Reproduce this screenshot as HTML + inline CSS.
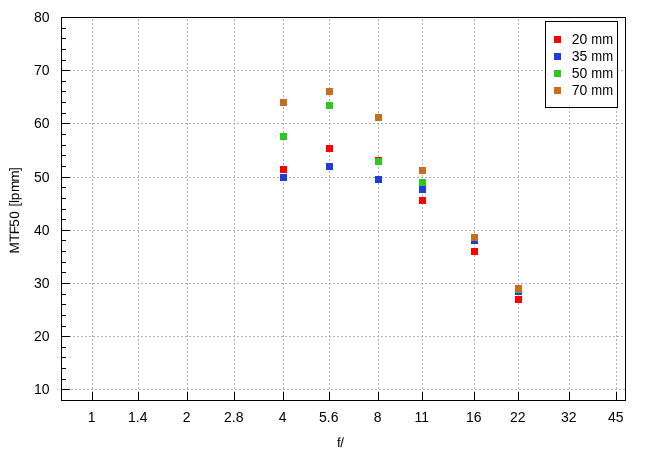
<!DOCTYPE html>
<html lang="en"><head><meta charset="utf-8"><title>MTF50 chart</title>
<style>
html,body{margin:0;padding:0;background:#fff;}
body{width:650px;height:455px;overflow:hidden;}
svg{display:block;}
text{font-family:"Liberation Sans",Arial,sans-serif;font-size:14px;fill:#000;}
.g{fill:#b2b2b2;}
</style></head><body>
<svg width="650" height="455" viewBox="0 0 650 455" shape-rendering="crispEdges">
<rect x="0" y="0" width="650" height="455" fill="#fff"/>
<g stroke="#b2b2b2" stroke-width="1" stroke-dasharray="2 2" fill="none">
<line x1="71" y1="389.5" x2="625" y2="389.5"/>
<line x1="69" y1="336.5" x2="625" y2="336.5"/>
<line x1="69" y1="283.5" x2="625" y2="283.5"/>
<line x1="69" y1="230.5" x2="625" y2="230.5"/>
<line x1="69" y1="177.5" x2="625" y2="177.5"/>
<line x1="69" y1="123.5" x2="625" y2="123.5"/>
<line x1="69" y1="70.5" x2="625" y2="70.5"/>
<line x1="92.5" y1="19" x2="92.5" y2="400"/>
<line x1="138.5" y1="19" x2="138.5" y2="400"/>
<line x1="187.5" y1="19" x2="187.5" y2="400"/>
<line x1="234.5" y1="19" x2="234.5" y2="400"/>
<line x1="283.5" y1="19" x2="283.5" y2="400"/>
<line x1="329.5" y1="19" x2="329.5" y2="400"/>
<line x1="378.5" y1="19" x2="378.5" y2="400"/>
<line x1="422.5" y1="19" x2="422.5" y2="400"/>
<line x1="474.5" y1="19" x2="474.5" y2="400"/>
<line x1="518.5" y1="19" x2="518.5" y2="400"/>
<line x1="569.5" y1="19" x2="569.5" y2="400"/>
<line x1="616.5" y1="19" x2="616.5" y2="400"/>
</g>
<g fill="#000">
<rect x="61" y="400" width="5" height="1"/>
<rect x="61" y="389" width="9" height="1"/>
<rect x="61" y="379" width="5" height="1"/>
<rect x="61" y="368" width="5" height="1"/>
<rect x="61" y="357" width="5" height="1"/>
<rect x="61" y="347" width="5" height="1"/>
<rect x="61" y="336" width="9" height="1"/>
<rect x="61" y="326" width="5" height="1"/>
<rect x="61" y="315" width="5" height="1"/>
<rect x="61" y="304" width="5" height="1"/>
<rect x="61" y="294" width="5" height="1"/>
<rect x="61" y="283" width="9" height="1"/>
<rect x="61" y="272" width="5" height="1"/>
<rect x="61" y="262" width="5" height="1"/>
<rect x="61" y="251" width="5" height="1"/>
<rect x="61" y="240" width="5" height="1"/>
<rect x="61" y="230" width="9" height="1"/>
<rect x="61" y="219" width="5" height="1"/>
<rect x="61" y="209" width="5" height="1"/>
<rect x="61" y="198" width="5" height="1"/>
<rect x="61" y="187" width="5" height="1"/>
<rect x="61" y="177" width="9" height="1"/>
<rect x="61" y="166" width="5" height="1"/>
<rect x="61" y="155" width="5" height="1"/>
<rect x="61" y="145" width="5" height="1"/>
<rect x="61" y="134" width="5" height="1"/>
<rect x="61" y="123" width="9" height="1"/>
<rect x="61" y="113" width="5" height="1"/>
<rect x="61" y="102" width="5" height="1"/>
<rect x="61" y="91" width="5" height="1"/>
<rect x="61" y="81" width="5" height="1"/>
<rect x="61" y="70" width="9" height="1"/>
<rect x="61" y="60" width="5" height="1"/>
<rect x="61" y="49" width="5" height="1"/>
<rect x="61" y="38" width="5" height="1"/>
<rect x="61" y="28" width="5" height="1"/>
<rect x="61" y="17" width="9" height="1"/>
<rect x="92" y="392" width="1" height="9"/>
<rect x="138" y="392" width="1" height="9"/>
<rect x="187" y="392" width="1" height="9"/>
<rect x="234" y="392" width="1" height="9"/>
<rect x="283" y="392" width="1" height="9"/>
<rect x="329" y="392" width="1" height="9"/>
<rect x="378" y="392" width="1" height="9"/>
<rect x="422" y="392" width="1" height="9"/>
<rect x="474" y="392" width="1" height="9"/>
<rect x="518" y="392" width="1" height="9"/>
<rect x="569" y="392" width="1" height="9"/>
<rect x="616" y="392" width="1" height="9"/>
<rect x="61" y="17" width="565" height="1"/>
<rect x="61" y="400" width="565" height="1"/>
<rect x="61" y="17" width="1" height="384"/>
<rect x="625" y="17" width="1" height="384"/>
</g>
<g fill="#ff0000">
<rect x="280" y="166" width="7" height="7"/>
<rect x="326" y="145" width="7" height="7"/>
<rect x="375" y="157" width="7" height="7"/>
<rect x="419" y="197" width="7" height="7"/>
<rect x="471" y="248" width="7" height="7"/>
<rect x="515" y="296" width="7" height="7"/>
</g>
<g fill="#1c3cdc">
<rect x="280" y="174" width="7" height="7"/>
<rect x="326" y="163" width="7" height="7"/>
<rect x="375" y="176" width="7" height="7"/>
<rect x="419" y="186" width="7" height="7"/>
<rect x="471" y="237" width="7" height="7"/>
<rect x="515" y="288" width="7" height="7"/>
</g>
<g fill="#2cc820">
<rect x="280" y="133" width="7" height="7"/>
<rect x="326" y="102" width="7" height="7"/>
<rect x="375" y="158" width="7" height="7"/>
<rect x="419" y="179" width="7" height="7"/>
<rect x="471" y="234" width="7" height="7"/>
<rect x="515" y="286" width="7" height="7"/>
</g>
<g fill="#c86e1c">
<rect x="280" y="99" width="7" height="7"/>
<rect x="326" y="88" width="7" height="7"/>
<rect x="375" y="114" width="7" height="7"/>
<rect x="419" y="167" width="7" height="7"/>
<rect x="471" y="234" width="7" height="7"/>
<rect x="515" y="285" width="7" height="7"/>
</g>
<rect x="545" y="19" width="73" height="4" fill="#fff"/>
<rect x="569" y="18" width="1" height="1" fill="#c4c4c4"/><rect x="616" y="18" width="1" height="1" fill="#c4c4c4"/>
<rect x="545.5" y="21.5" width="72" height="86" fill="#fff" stroke="#000" stroke-width="1"/>
<rect x="554" y="36" width="7" height="7" fill="#ff0000"/>
<text x="571.8" y="43.7">20 <tspan textLength="21.8" lengthAdjust="spacingAndGlyphs">mm</tspan></text>
<rect x="554" y="53" width="7" height="7" fill="#1c3cdc"/>
<text x="571.8" y="60.7">35 <tspan textLength="21.8" lengthAdjust="spacingAndGlyphs">mm</tspan></text>
<rect x="554" y="70" width="7" height="7" fill="#2cc820"/>
<text x="571.8" y="77.7">50 <tspan textLength="21.8" lengthAdjust="spacingAndGlyphs">mm</tspan></text>
<rect x="554" y="87" width="7" height="7" fill="#c86e1c"/>
<text x="571.8" y="94.7">70 <tspan textLength="21.8" lengthAdjust="spacingAndGlyphs">mm</tspan></text>
<text x="49.5" y="394.2" text-anchor="end">10</text>
<text x="49.5" y="341.2" text-anchor="end">20</text>
<text x="49.5" y="288.2" text-anchor="end">30</text>
<text x="49.5" y="235.2" text-anchor="end">40</text>
<text x="49.5" y="182.2" text-anchor="end">50</text>
<text x="49.5" y="128.2" text-anchor="end">60</text>
<text x="49.5" y="75.2" text-anchor="end">70</text>
<text x="49.5" y="22.2" text-anchor="end">80</text>
<text x="91.7" y="421.7" text-anchor="middle">1</text>
<text x="137.7" y="421.7" text-anchor="middle">1.4</text>
<text x="186.7" y="421.7" text-anchor="middle">2</text>
<text x="233.7" y="421.7" text-anchor="middle">2.8</text>
<text x="282.7" y="421.7" text-anchor="middle">4</text>
<text x="328.7" y="421.7" text-anchor="middle">5.6</text>
<text x="377.7" y="421.7" text-anchor="middle">8</text>
<text x="421.7" y="421.7" text-anchor="middle">11</text>
<text x="473.7" y="421.7" text-anchor="middle">16</text>
<text x="517.7" y="421.7" text-anchor="middle">22</text>
<text x="568.7" y="421.7" text-anchor="middle">32</text>
<text x="615.7" y="421.7" text-anchor="middle">45</text>
<text x="340.3" y="446.8" text-anchor="middle" style="font-size:13.33px" text-rendering="geometricPrecision" letter-spacing="-0.5">f/</text>
<text transform="translate(19.1,253.3) rotate(-90)" style="font-size:13.6px" text-rendering="geometricPrecision" x="-0.3 11.3 19.0 26.5 34.6 42.2 46.7 50.4 53.1 61.2 71.6 82.2">MTF50 [lpmm]</text>
</svg>
</body></html>
